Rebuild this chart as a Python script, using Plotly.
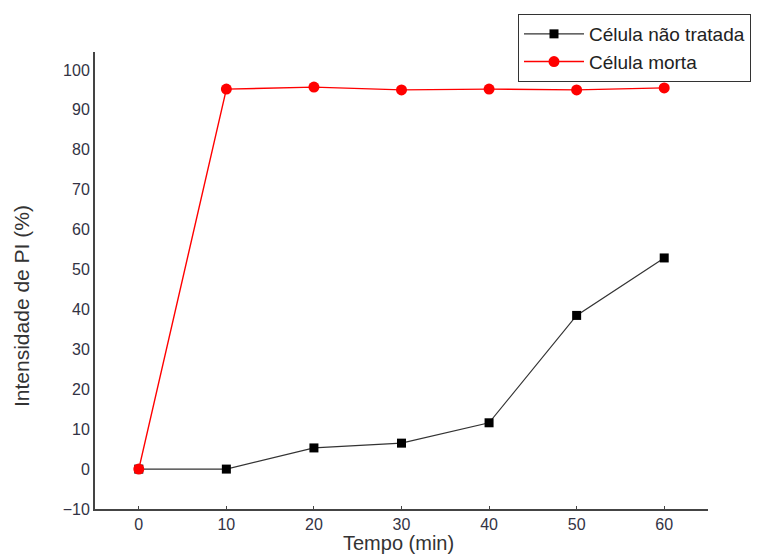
import plotly.graph_objects as go

tempo = [0, 10, 20, 30, 40, 50, 60]
nao_tratada = [0, 0, 5.3, 6.5, 11.6, 38.5, 52.9]
morta = [0, 95.2, 95.7, 95.0, 95.2, 95.0, 95.5]
y_ticks = [-10, 0, 10, 20, 30, 40, 50, 60, 70, 80, 90, 100]
x_ticks = [0, 10, 20, 30, 40, 50, 60]

# The page body adds an 8px offset; the figure is sized so that it ends at the window edge.
OFF = 8
W, H = 768 - OFF, 556 - OFF
L, R, T, B = 95 - OFF, 60, 52 - OFF, 47
PW, PH = W - L - R, H - T - B


def px_x(x):
    return (x - OFF - L) / PW


def px_y(y):
    return (H - B - (y - OFF)) / PH


fig = go.Figure()
fig.add_trace(go.Scatter(
    x=tempo, y=nao_tratada, mode="lines+markers", name="Célula não tratada",
    line=dict(color="#333333", width=1.2),
    marker=dict(symbol="square", size=9, color="black"),
))
fig.add_trace(go.Scatter(
    x=tempo, y=morta, mode="lines+markers", name="Célula morta",
    line=dict(color="red", width=1.4),
    marker=dict(symbol="circle", size=11, color="red"),
))

fig.update_layout(
    width=W, height=H,
    margin=dict(l=L, r=R, t=T, b=B, autoexpand=False),
    paper_bgcolor="white", plot_bgcolor="white",
    font=dict(family="Liberation Sans, Arial", color="#333333"),
    legend=dict(
        x=px_x(518), y=px_y(14), xanchor="left", yanchor="top",
        bordercolor="#333333", borderwidth=1, bgcolor="white",
        font=dict(size=19, color="#222222"),
        tracegroupgap=0, itemwidth=60,
    ),
    xaxis=dict(
        range=[-5, 65], tickvals=x_ticks, showgrid=False, zeroline=False,
        showline=True, linecolor="#444444", linewidth=2, automargin=False,
        ticks="inside", ticklen=3, tickcolor="#444444",
        tickfont=dict(size=16, color="#333344"),
    ),
    yaxis=dict(
        range=[-10, 104.5], tickvals=y_ticks, showgrid=False, zeroline=False,
        showline=True, linecolor="#444444", linewidth=2, automargin=False,
        ticks="", tickfont=dict(size=16, color="#333344"),
    ),
    annotations=[
        dict(text="Tempo (min)", xref="paper", yref="paper",
             x=px_x(398), y=px_y(543), xanchor="center", yanchor="middle",
             showarrow=False, font=dict(size=20, color="#333333")),
        dict(text="Intensidade de PI (%)", xref="paper", yref="paper", textangle=-90,
             x=px_x(21), y=px_y(306), xanchor="center", yanchor="middle",
             showarrow=False, font=dict(size=21, color="#333333")),
    ],
)

fig.write_html("out.html")
